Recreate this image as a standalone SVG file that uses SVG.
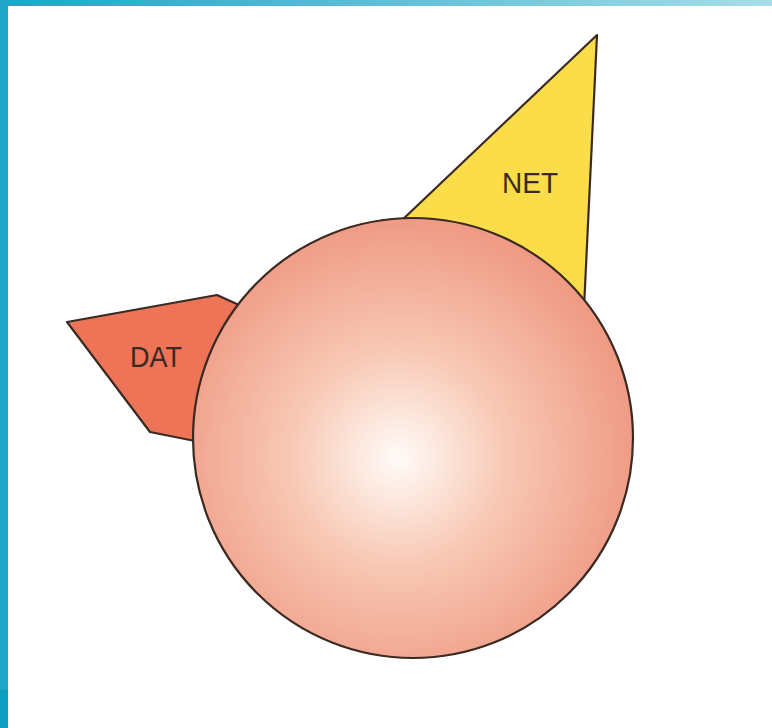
<svg xmlns="http://www.w3.org/2000/svg" width="772" height="728" viewBox="0 0 772 728">
<defs>
<linearGradient id="topbar" x1="0" y1="0" x2="1" y2="0">
<stop offset="0" stop-color="#1fa5c8"/>
<stop offset="0.5" stop-color="#5fbfd6"/>
<stop offset="1" stop-color="#a8dde9"/>
</linearGradient>
<radialGradient id="ball" cx="398" cy="458" r="240" gradientUnits="userSpaceOnUse">
<stop offset="0" stop-color="#fffbf8"/>
<stop offset="0.45" stop-color="#f8c8b4"/>
<stop offset="1" stop-color="#ef9a84"/>
</radialGradient>
</defs>
<style>
.shape{stroke:#3a2a22;stroke-width:2.2;stroke-linejoin:round}
.lbl{font-family:"Liberation Sans",Arial,sans-serif;font-size:30px;fill:#3a2a22;text-anchor:middle}
</style>
<rect width="772" height="728" fill="#ffffff"/>
<rect x="0" y="0" width="772" height="6" fill="url(#topbar)"/>
<rect x="0" y="0" width="8" height="690" fill="#1fa6c6"/>
<rect x="0" y="690" width="8" height="38" fill="#0d9dbf"/>
<g id="net">
<polygon class="shape" points="597,35 380,241 582,350" fill="#fbdd4a"/>
<text class="lbl" x="530" y="193" textLength="56" lengthAdjust="spacingAndGlyphs">NET</text>
</g>
<g id="dat">
<polygon class="shape" points="67,322 217,295 250,310 215,445 150,432" fill="#ee7458"/>
<text class="lbl" x="156" y="367" textLength="52" lengthAdjust="spacingAndGlyphs">DAT</text>
</g>
<g id="core">
<circle class="shape" cx="413" cy="438" r="220" fill="url(#ball)"/>
</g>
<g id="connectors"/>
</svg>
